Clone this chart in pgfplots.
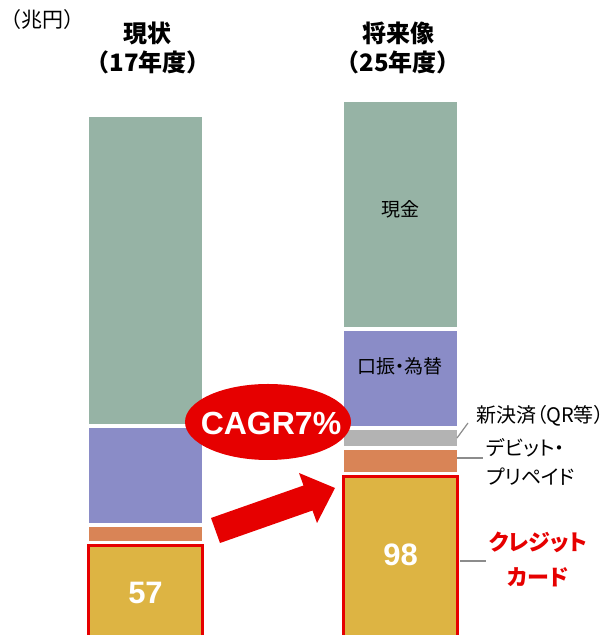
\documentclass[border=0pt]{standalone}
\usepackage{pgfplots}
\pgfplotsset{compat=1.18}
\usepackage{fontspec}
\setmainfont{Liberation Sans}
\newfontfamily\jp{Noto Sans CJK JP}
\newfontfamily\jpp{Noto Sans CJK JP}[RawFeature=+palt]

\definecolor{cgreen}{HTML}{96B3A5}
\definecolor{cpurple}{HTML}{8A8CC7}
\definecolor{corange}{HTML}{D98456}
\definecolor{cgray}{HTML}{B3B3B3}
\definecolor{cyel}{HTML}{DDB443}
\definecolor{cred}{HTML}{E60000}
\definecolor{cline}{HTML}{8C8C8C}

% 1 px of the reference = 0.5pt; axis box = whole picture
\pgfplotsset{
  base/.style={
    scale only axis, width=306pt, height=317.5pt,
    anchor=south west,
    xmin=0, xmax=612, ymin=1.9, ymax=381.9,
    hide axis,
  },
}

\begin{document}
\begin{tikzpicture}
\path[use as bounding box] (0,0) rectangle (306pt,317.5pt);

% stacked bars: 17年度 at x=145.5, 25年度 at x=400.5 (trillion yen)
\begin{axis}[base, at={(0pt,0pt)}, ybar stacked, bar width=117]
  \addplot[fill=cyel, draw=white, line width=2pt] coordinates {(145.5,57) (400.5,98)};   % クレジット
  \addplot[fill=corange, draw=white, line width=2pt] coordinates {(145.5,11) (400.5,16)}; % デビット・プリペイド
  \addplot[fill=cgray, draw=white, line width=2pt] coordinates {(145.5,0) (400.5,12)};    % 新決済
  \addplot[fill=cpurple, draw=white, line width=2pt] coordinates {(145.5,59) (400.5,59)}; % 口振・為替
  \addplot[fill=cgreen, draw=white, line width=2pt] coordinates {(145.5,186) (400.5,137)};% 現金
\end{axis}

% credit card segment framed in red
\begin{axis}[base, at={(0pt,-1.25pt)}, ybar, bar width=114]
  \addplot[fill=cyel, draw=cred, line width=1.5pt] coordinates {(145.5,57) (400.5,98)};
\end{axis}

\begin{scope}[x=0.5pt, y=-0.5pt, shift={(0pt,317.5pt)}]
  % titles
  \node[anchor=west, inner sep=0pt, font=\jp\fontsize{10.5}{11}\selectfont] at (0,20) {（兆円）};
  \node[font=\jp\bfseries\fontsize{12}{13}\selectfont] at (147,33) {現状};
  \node[font=\jp\bfseries\fontsize{12}{13}\selectfont] at (148,62) {（17年度）};
  \node[font=\jp\bfseries\fontsize{12}{13}\selectfont] at (398,33) {将来像};
  \node[font=\jp\bfseries\fontsize{12}{13}\selectfont] at (398,62) {（25年度）};

  % labels in bars
  \node[font=\jp\fontsize{9.5}{10}\selectfont] at (400,209) {現金};
  \node[font=\jpp\fontsize{9.5}{10}\selectfont] at (400,366) {口振・為替};
  \node[text=white, font=\bfseries\fontsize{15.5}{16}\selectfont] at (145.5,593) {57};
  \node[text=white, font=\bfseries\fontsize{15.5}{16}\selectfont] at (400.5,555) {98};

  % arrow
  \fill[cred] (211,518) -- (303.5,485.5) -- (299,473) -- (335,488)
              -- (317,523) -- (312.5,510.5) -- (220,543) -- cycle;
  % CAGR bubble
  \fill[cred] (268,422) ellipse [x radius=83, y radius=38];
  \node[text=white, font=\bfseries\fontsize{16}{17}\selectfont] at (271,423) {CAGR7\%};

  % leader lines and side labels
  \draw[cline, line width=0.6pt] (457,438) -- (468,423);
  \draw[cline, line width=0.6pt] (457,458) -- (483,458);
  \draw[cline, line width=0.6pt] (460,561) -- (486,561);
  \node[anchor=west, inner sep=0pt, font=\jpp\fontsize{10}{11}\selectfont] at (476,416) {新決済（QR等）};
  \node[anchor=west, inner sep=0pt, font=\jpp\fontsize{10}{11}\selectfont] at (486,448) {デビット・};
  \node[anchor=west, inner sep=0pt, font=\jpp\fontsize{10}{11}\selectfont] at (486,477) {プリペイド};
  \node[text=cred, font=\jpp\bfseries\fontsize{11}{12}\selectfont] at (538,542) {クレジット};
  \node[text=cred, font=\jpp\bfseries\fontsize{11}{12}\selectfont] at (538,577) {カード};
\end{scope}
\end{tikzpicture}
\end{document}
